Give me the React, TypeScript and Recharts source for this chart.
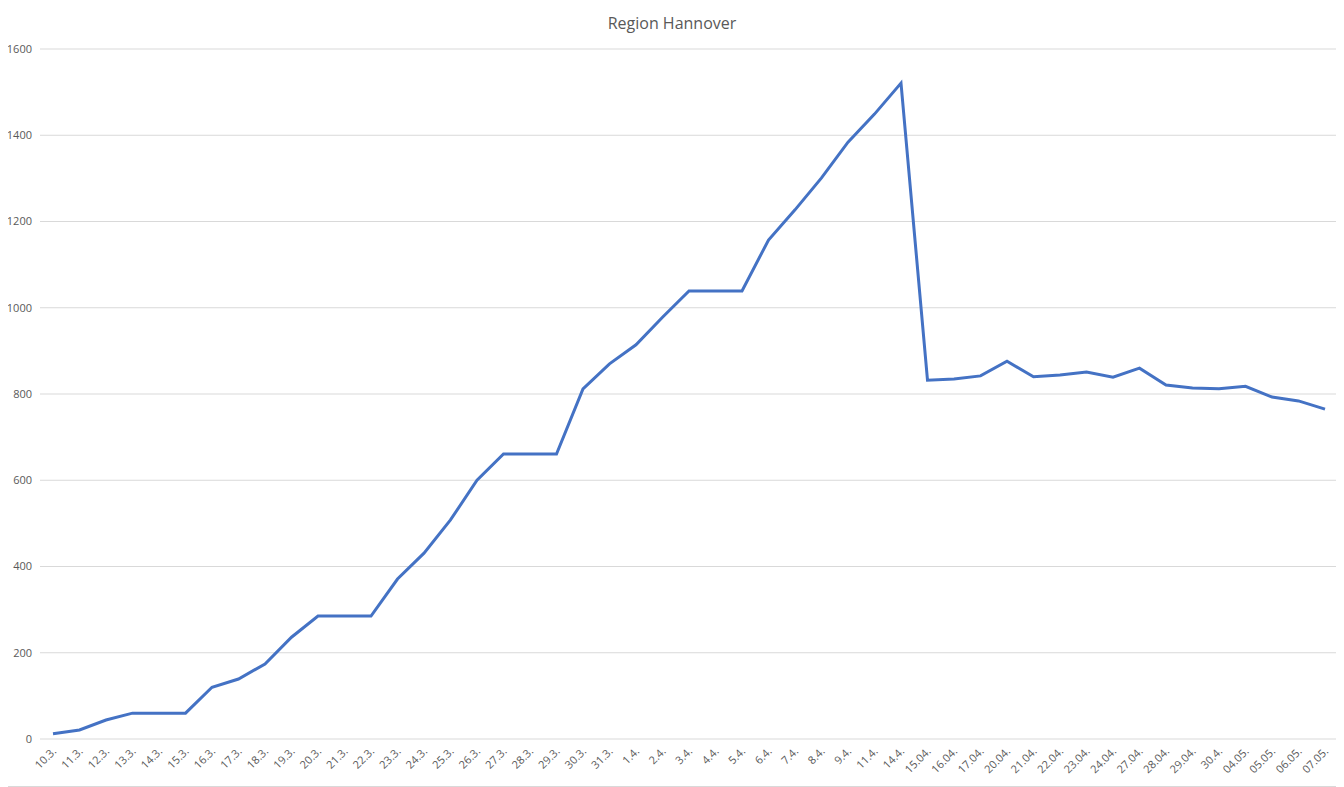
import React from "react";
import { LineChart, Line, XAxis, YAxis, CartesianGrid } from "recharts";

const dates = [
  "10.3.", "11.3.", "12.3.", "13.3.", "14.3.", "15.3.", "16.3.", "17.3.", "18.3.", "19.3.",
  "20.3.", "21.3.", "22.3.", "23.3.", "24.3.", "25.3.", "26.3.", "27.3.", "28.3.", "29.3.",
  "30.3.", "31.3.", "1.4.", "2.4.", "3.4.", "4.4.", "5.4.", "6.4.", "7.4.", "8.4.",
  "9.4.", "11.4.", "14.4.", "15.04.", "16.04.", "17.04.", "20.04.", "21.04.", "22.04.", "23.04.",
  "24.04.", "27.04.", "28.04.", "29.04.", "30.4.", "04.05.", "05.05.", "06.05.", "07.05.",
];

const cases = [
  12, 21, 44, 60, 60, 60, 120, 139, 174, 236,
  285, 285, 285, 371, 431, 508, 600, 661, 661, 661,
  812, 870, 914, 978, 1039, 1039, 1039, 1157, 1227, 1301,
  1384, 1449, 1521, 832, 835, 842, 876, 840, 844, 851,
  839, 860, 821, 814, 812, 818, 793, 784, 765,
];

const yTicks = [0, 200, 400, 600, 800, 1000, 1200, 1400, 1600];

const data = dates.map((d, i) => ({ date: d, value: cases[i] }));

const FONT = "'Open Sans', 'Liberation Sans', sans-serif";

const XTick = (props: any) => {
  const { x, y, payload } = props;
  return (
    <g transform={`translate(${x + 4},${y + 5})`}>
      <text
        textAnchor="end"
        transform="rotate(-45)"
        fontSize={11}
        fill="#595959"
        fontFamily={FONT}
      >
        {payload.value}
      </text>
    </g>
  );
};

export default function App() {
  return (
    <div style={{ marginLeft: -8, marginTop: -8, width: 1344, height: 787, position: "relative" }}>
      <div
        style={{
          position: "absolute",
          left: 0,
          top: 0,
          width: 1342,
          height: 785,
          border: "1px solid #d9d9d9",
          background: "#fff",
        }}
      />
      <div
        style={{
          position: "absolute",
          left: 0,
          top: 12,
          width: 1344,
          textAlign: "center",
          fontFamily: FONT,
          fontSize: 16,
          color: "#595959",
        }}
      >
        Region Hannover
      </div>
      <div style={{ position: "absolute", left: 0, top: 0 }}>
        <LineChart
          width={1344}
          height={787}
          data={data}
          margin={{ top: 49, right: 6, bottom: 0, left: 0 }}
        >
          <CartesianGrid vertical={false} stroke="#d9d9d9" />
          <XAxis
            dataKey="date"
            interval={0}
            axisLine={false}
            tickLine={false}
            padding={{ left: 13, right: 13 }}
            tick={<XTick />}
            height={48}
          />
          <YAxis
            domain={[0, 1600]}
            ticks={yTicks}
            width={40}
            axisLine={false}
            tickLine={false}
            tick={{ fontSize: 11, fill: "#595959", fontFamily: FONT }}
          />
          <Line
            type="linear"
            dataKey="value"
            stroke="#4472c4"
            strokeWidth={3}
            dot={false}
            isAnimationActive={false}
          />
        </LineChart>
      </div>
    </div>
  );
}
